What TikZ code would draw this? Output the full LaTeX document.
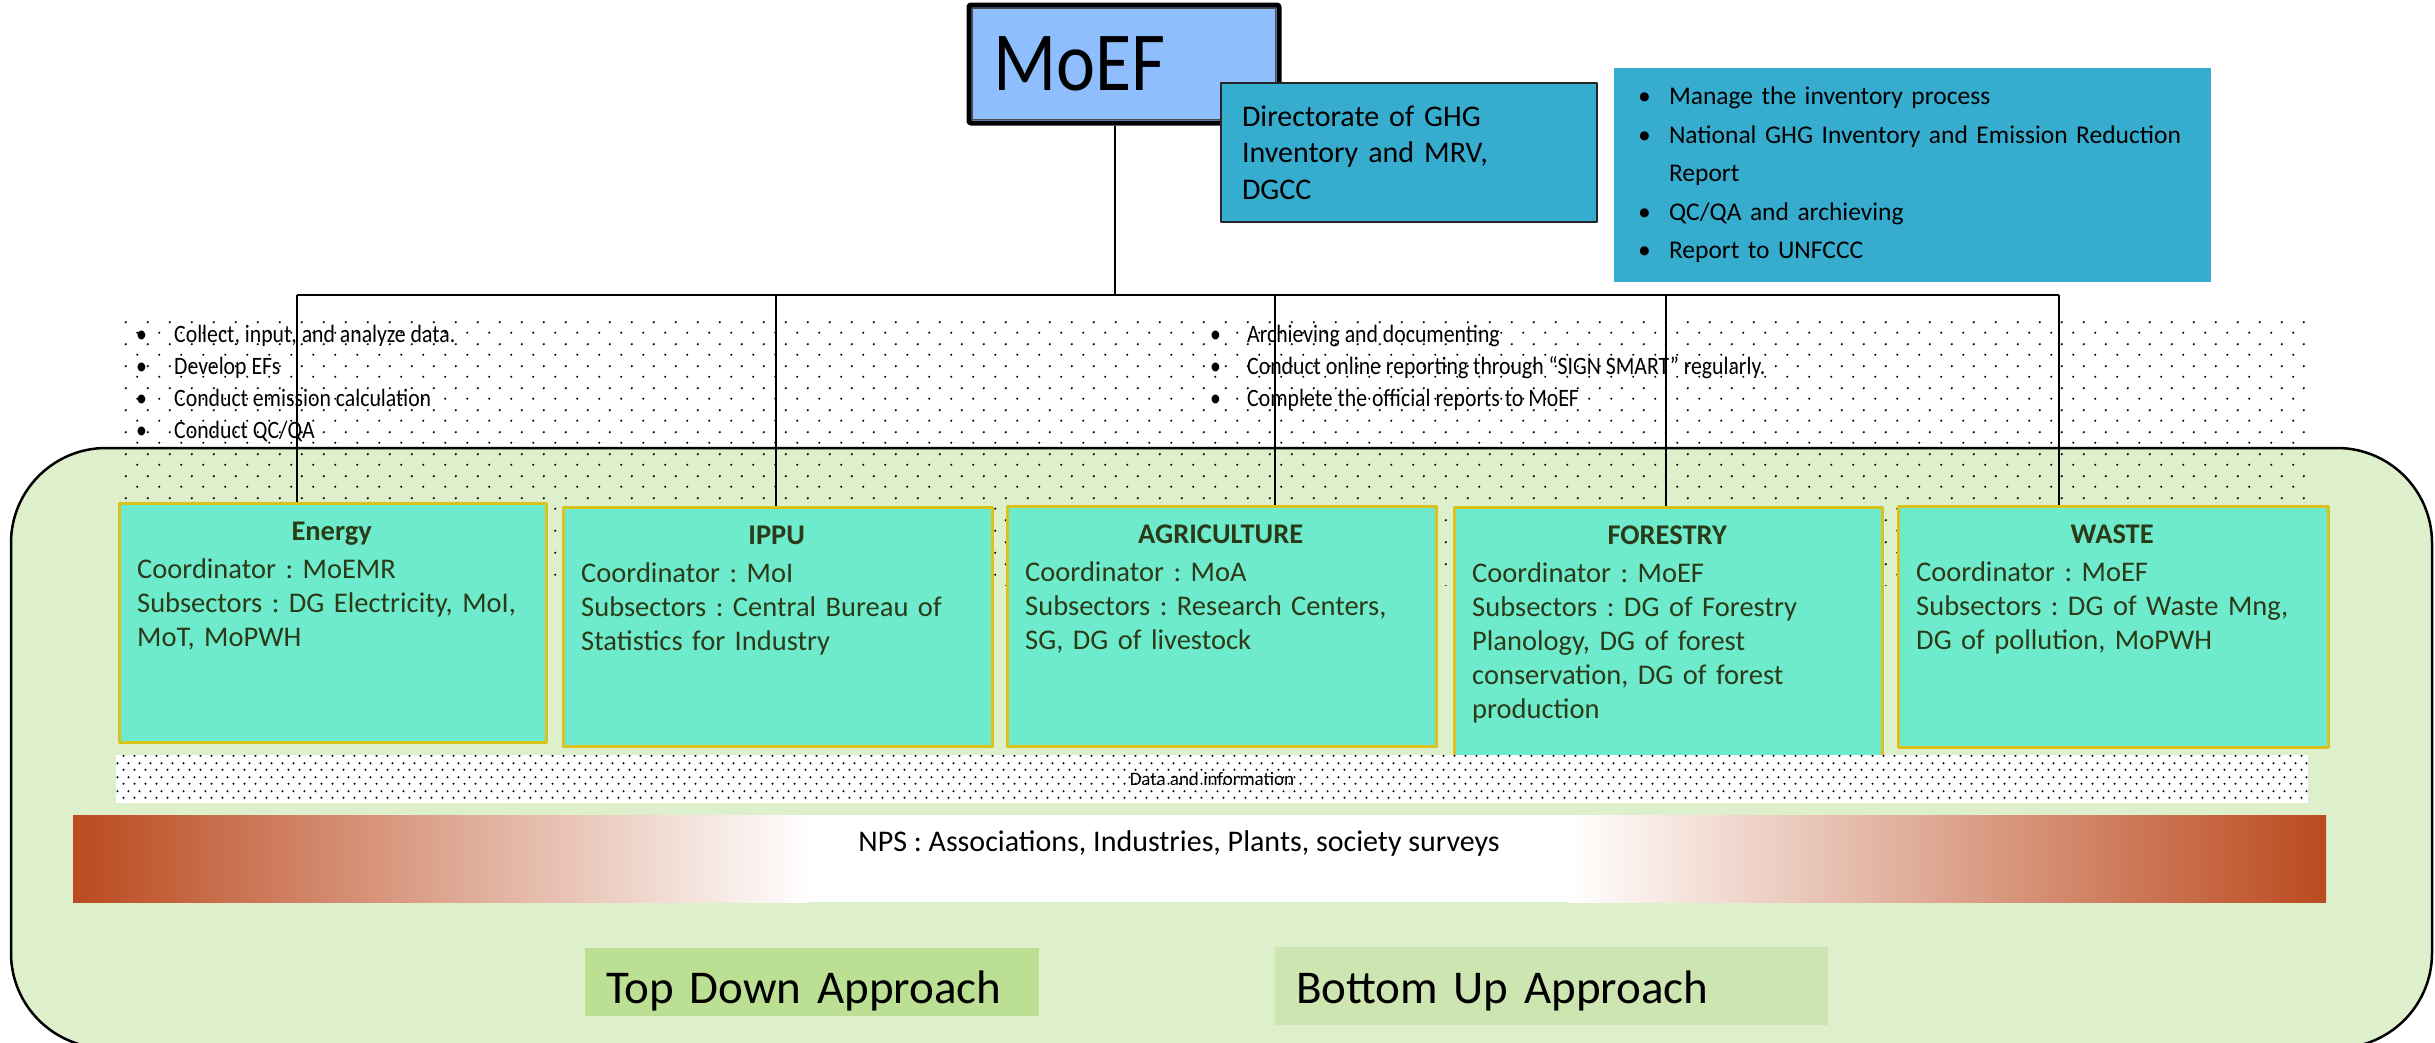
\documentclass[tikz,border=0pt]{standalone}
\usepackage{fontspec}
\setmainfont{Carlito}
\newfontfamily\narrowfont{Carlito}[FakeStretch=0.87]
\usetikzlibrary{patterns}
\definecolor{moefblue}{HTML}{8EBEFD}
\definecolor{dirteal}{HTML}{36ADCE}
\definecolor{sectorfill}{HTML}{6EEBCC}
\definecolor{sectorline}{HTML}{D9C21C}
\definecolor{sectorink}{HTML}{2B3A17}
\definecolor{greenbg}{HTML}{DEEFCB}
\definecolor{npsorange}{HTML}{BB4A1F}
\definecolor{topgreen}{HTML}{BBE093}
\definecolor{bottomgreen}{HTML}{CDE5B0}
\newcommand\fsz[2]{\fontsize{#1}{#2}\selectfont}
\newcommand\bul[1]{\makebox[#1][l]{\textbullet}}
\pgfdeclarepatternformonly{sparsedots}{\pgfqpoint{0pt}{0pt}}{\pgfqpoint{22pt}{22pt}}{\pgfqpoint{22pt}{22pt}}{%
  \pgfpathcircle{\pgfqpoint{5.5pt}{5.5pt}}{1.25pt}%
  \pgfpathcircle{\pgfqpoint{16.5pt}{16.5pt}}{1.25pt}%
  \pgfusepath{fill}}
\pgfdeclarepatternformonly{densedots}{\pgfqpoint{0pt}{0pt}}{\pgfqpoint{11pt}{13.4pt}}{\pgfqpoint{11pt}{13.4pt}}{%
  \pgfpathcircle{\pgfqpoint{2.75pt}{3.35pt}}{1.2pt}%
  \pgfpathcircle{\pgfqpoint{8.25pt}{10.05pt}}{1.2pt}%
  \pgfusepath{fill}}
\frenchspacing
\hyphenpenalty=10000
\exhyphenpenalty=10000
\begin{document}
\begin{tikzpicture}[x=1pt,y=-1pt,line join=round]
	\tikzset{conn/.style={line width=2.5pt},
		sectorbox/.style={draw=sectorline,fill=sectorfill,line width=2.5pt,anchor=north west,inner sep=0pt},
		sectortext/.style={anchor=north west,align=left,inner sep=0pt,text=sectorink,font=\fsz{28.5}{34}},
		tasktext/.style={anchor=north west,align=left,inner sep=0pt,font=\narrowfont\fsz{25}{32}},
		approach/.style={inner xsep=21pt,inner ysep=0pt,align=left,text depth=0pt,font=\fsz{47}{50}}}
	\useasboundingbox (0,0) rectangle (2435,1042);
	\clip (0,0) rectangle (2435,1042);
	% green frame and dotted field
	\draw[fill=greenbg,line width=2.5pt,rounded corners=95pt] (11,448) rectangle (2432,1048);
	\fill[pattern=sparsedots] (123,312) rectangle (2305,585);
	% ministry and directorate
	\node[fill=moefblue,draw,line width=5pt,rounded corners=2pt,minimum width=310pt,minimum height=118pt,text width=262pt,inner xsep=24pt,align=left,font=\fsz{84}{90}] (moef) at (1124,64) {\scalebox{0.88}[1]{MoEF}};
	\draw[line width=1pt,black!70] ([shift={(6,6)}]moef.north west) rectangle ([shift={(-6,-6)}]moef.south east);
	\node[fill=dirteal,draw=black!85,line width=2.5pt,minimum width=376pt,minimum height=139pt,text width=334pt,inner xsep=21pt,align=left,font=\fsz{30}{36.5}] (dgcc) at (1409,152.5) {Directorate of GHG\\Inventory and MRV,\\DGCC};
	\node[fill=dirteal,minimum width=597pt,minimum height=214pt,text width=549pt,inner xsep=24pt,align=left,font=\fsz{25.5}{38.5}] (duties) at (1912.5,175) {\bul{31pt}Manage the inventory process\\\bul{31pt}National GHG Inventory and Emission Reduction\\\hspace*{31pt}Report\\\bul{31pt}QC/QA and archieving\\\bul{31pt}Report to UNFCCC};
	% sectors
	\foreach \nm/\dx/\bx/\by/\bw/\bh/\ttl/\txt in {
		energy/297/118/502/427/239/Energy/{Coordinator : MoEMR\\Subsectors : DG Electricity, MoI,\\MoT, MoPWH},
		ippu/776/562/506/429/239/IPPU/{Coordinator : MoI\\Subsectors : Central Bureau of\\Statistics for Industry},
		agri/1275/1006/505/429/240/AGRICULTURE/{Coordinator : MoA\\Subsectors : Research Centers,\\SG, DG of livestock},
		forest/1666/1453/506/428/250/FORESTRY/{Coordinator : MoEF\\Subsectors : DG of Forestry\\Planology, DG of forest\\conservation, DG of forest\\production},
		waste/2059/1897/505/430/241/WASTE/{Coordinator : MoEF\\Subsectors : DG of Waste Mng,\\DG of pollution, MoPWH}}{
		\pgfmathsetmacro\tw{\bw-30}
		\node[sectorbox,minimum width=\bw pt,minimum height=\bh pt] (\nm) at (\bx,\by) {};
		\node[sectortext,text width=\tw pt] (\nm-txt) at ([shift={(19,20)}]\nm.north west) {\makebox[\dimexpr\linewidth-8pt]{\bfseries\ttl}\\[4pt]\txt};
		\coordinate (\nm-drop) at (\dx,295);
	}
	\coordinate (moef-drop) at (1115,295);
	\draw[conn] (moef-drop |- moef.south) -- (moef-drop);
	\draw[conn] (energy-drop) -- (waste-drop);
	\foreach \nm in {energy,ippu,agri,forest,waste}
	\draw[conn] (\nm-drop) -- (\nm-drop |- \nm.north);
	\node[tasktext] (tasks) at (136,325) {\bul{38pt}Collect, input, and analyze data.\\\bul{38pt}Develop EFs\\\bul{38pt}Conduct emission calculation\\\bul{38pt}Conduct QC/QA};
	\node[tasktext] (reports) at (1210,325) {\bul{37pt}Archieving and documenting\\\bul{37pt}Conduct online reporting through “SIGN SMART” regularly.\\\bul{37pt}Complete the official reports to MoEF};
	% data band and NPS bar
	\node[fill=white,postaction={pattern=densedots},minimum width=2192pt,minimum height=48pt,inner sep=0pt,font=\fsz{19}{20}] (data) at (1212,779) {Data and information};
	\shade[left color=npsorange,right color=white] (73,815) rectangle (808,902);
	\fill[white] (807,815) rectangle (1569,902);
	\shade[left color=white,right color=npsorange] (1568,815) rectangle (2326,902);
	\node[font=\fsz{30}{31},anchor=base] (nps) at (1179,851) {NPS : Associations, Industries, Plants, society surveys};
	% approaches
	\node[approach,fill=topgreen,minimum width=454pt,minimum height=68pt,text width=412pt,text height=42pt] (topdown) at (812,982) {Top Down Approach};
	\node[approach,fill=bottomgreen,minimum width=553pt,minimum height=78pt,text width=511pt,text height=34pt] (bottomup) at (1551.5,986) {Bottom Up Approach};
\end{tikzpicture}
\end{document}
